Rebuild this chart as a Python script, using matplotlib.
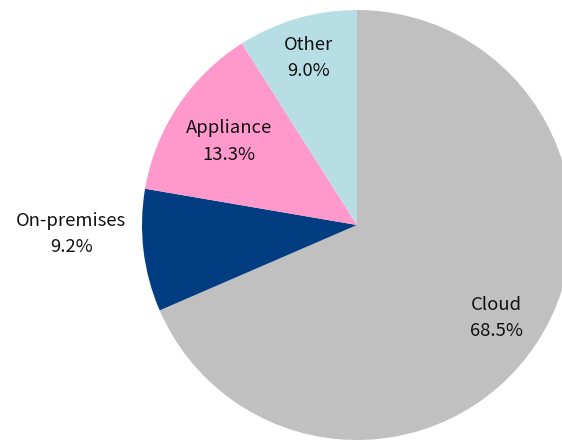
import numpy as np
import matplotlib
matplotlib.use("Agg")
import matplotlib.pyplot as plt

plt.rcParams["font.family"] = ["Noto Sans CJK JP", "DejaVu Sans"]

# data
categories = ["Cloud", "On-premises", "Appliance", "Other"]
shares = [68.5, 9.2, 13.3, 9.0]
colors = ["#c0c0c0", "#023d82", "#ff99cc", "#b8dee5"]
# label placement: radial distance (fraction of radius), angle shift (deg)
label_dist = [0.78, 1.33, 0.71, 0.81]
label_shift = [-0.5, -5.0, 0.5, 0.0]

fig = plt.figure(figsize=(5.62, 4.40), dpi=100)
ax = fig.add_axes([0, 0, 1, 1])

cx, cy, r = 357, 215, 215
wedges, _ = ax.pie(shares, colors=colors, startangle=90, counterclock=False,
                   center=(cx, cy), radius=r, frame=True,
                   wedgeprops={"linewidth": 0})
ax.set_xlim(0, 562)
ax.set_ylim(0, 440)
ax.set_aspect("equal")
ax.axis("off")

for w, name, val, d, s in zip(wedges, categories, shares, label_dist, label_shift):
    ang = np.deg2rad((w.theta1 + w.theta2) / 2 + s)
    x = cx + d * r * np.cos(ang)
    y = cy + d * r * np.sin(ang)
    ax.text(x, y, f"{name}\n{val:.1f}%", ha="center", va="center",
            fontsize=13.3, linespacing=1.58, color="#111111")

fig.savefig("out.png", dpi=100, facecolor="white")
